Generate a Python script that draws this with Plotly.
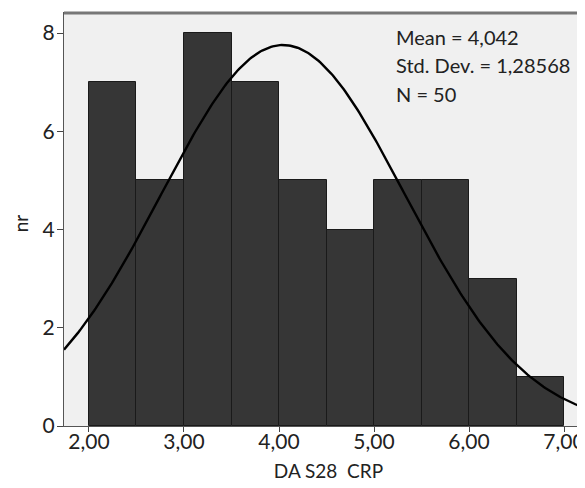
import numpy as np
import plotly.graph_objects as go

bin_starts = [2.0, 2.5, 3.0, 3.5, 4.0, 4.5, 5.0, 5.5, 6.0, 6.5]
counts = [7, 5, 8, 7, 5, 4, 5, 5, 3, 1]
bin_width = 0.5
mean = 4.042
std = 1.28568
n = 50
x_ticks = [2, 3, 4, 5, 6, 7]
y_ticks = [0, 2, 4, 6, 8]
stat_lines = ["Mean = 4,042", "Std. Dev. = 1,28568", "N = 50"]

xr = [1.737, 7.305]
xs = np.linspace(xr[0], xr[1], 300)
ys = n * bin_width / (std * np.sqrt(2 * np.pi)) * np.exp(-0.5 * ((xs - mean) / std) ** 2)

fig = go.Figure()
fig.add_trace(go.Bar(
    x=[b + bin_width / 2 for b in bin_starts], y=counts, width=bin_width,
    marker=dict(color="#363636", line=dict(color="#1a1a1a", width=1)),
    showlegend=False, hoverinfo="skip"))
fig.add_trace(go.Scatter(x=xs, y=ys, mode="lines", line=dict(color="black", width=2.4),
                         showlegend=False, hoverinfo="skip"))

font = "Lato, 'Open Sans', sans-serif"
fig.update_layout(
    width=585, height=488,
    margin=dict(l=56, r=0, t=5, b=70),
    paper_bgcolor="white", plot_bgcolor="#f0f0f0",
    separators=",.",
    font=dict(family=font, size=21, color="#222"),
    xaxis=dict(range=xr, tickvals=x_ticks, tickformat=".2f", ticks="outside", ticklen=5,
               tickcolor="#444", showgrid=False, zeroline=False, showline=True,
               linecolor="#555", linewidth=1, mirror=True, automargin=False,
               ticklabelstandoff=-8,
               title=dict(text="DA S28  CRP", font=dict(size=19), standoff=12)),
    yaxis=dict(range=[0, 8.41], tickvals=y_ticks, ticks="outside", ticklen=6,
               tickcolor="#444", showgrid=False, zeroline=False, showline=True,
               linecolor="#555", linewidth=1, automargin=False,
               ticklabelstandoff=-2),
    bargap=0,
)
fig.add_annotation(xref="paper", yref="paper", x=-0.082, y=0.49, xanchor="center", yanchor="middle",
                   textangle=-90, showarrow=False, text="nr", borderpad=0,
                   font=dict(size=19, color="#222", family=font))
fig.add_shape(type="line", xref="paper", yref="paper", x0=0, x1=1, y0=1, y1=1,
              line=dict(color="#777", width=3))
for txt, yp in zip(stat_lines, [0.943, 0.875, 0.805]):
    fig.add_annotation(xref="paper", yref="paper", x=0.624, y=yp, xanchor="left", yanchor="middle",
                       align="left", showarrow=False, text=txt,
                       font=dict(size=20, color="#222", family=font))
fig.write_html("out.html")
